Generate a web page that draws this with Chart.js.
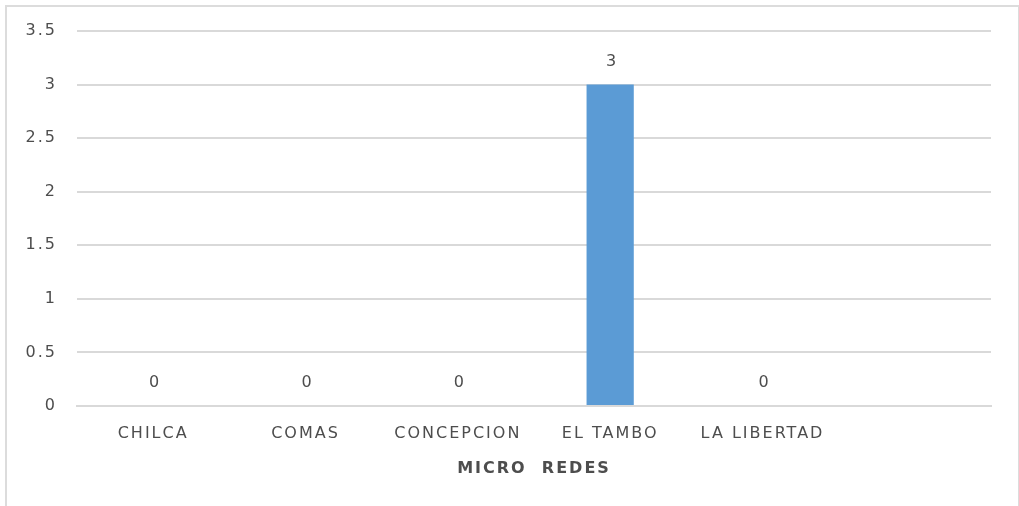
<!DOCTYPE html>
<html>
<head>
<meta charset="utf-8">
<script src="https://cdn.jsdelivr.net/npm/chart.js@4"></script>
<style>
  html, body { margin: 0; padding: 0; background: #fff; overflow: hidden; }
  .frame { position: absolute; left: 5px; top: 5px; width: 1011px; height: 520px; border: 2px solid #dcdcdc; }
  .wrap { position: absolute; left: 0; top: 0; width: 1019px; height: 506px; }
</style>
</head>
<body>
<div class="frame"></div>
<div class="wrap"><canvas id="chart"></canvas></div>
<script>
const categories = ['CHILCA', 'COMAS', 'CONCEPCION', 'EL TAMBO', 'LA LIBERTAD', ''];
const values = [0, 0, 0, 3, 0, null];
const yTicks = [0, 0.5, 1, 1.5, 2, 2.5, 3, 3.5];

const TEXT = '#4d4d4d';
const FONT = 'DejaVu Sans';

// spread the letters a bit, like the original rendering
const spacing = {
  id: 'spacing',
  beforeInit(chart) { chart.ctx.letterSpacing = '2px'; },
  beforeDraw(chart) { chart.ctx.letterSpacing = '2px'; }
};

// value labels over each bar
const valueLabels = {
  id: 'valueLabels',
  afterDatasetsDraw(chart) {
    const ctx = chart.ctx;
    const meta = chart.getDatasetMeta(0);
    ctx.save();
    ctx.fillStyle = TEXT;
    ctx.font = '16px "' + FONT + '"';
    ctx.textAlign = 'center';
    ctx.textBaseline = 'middle';
    meta.data.forEach((bar, i) => {
      if (values[i] === null) return;
      ctx.fillText(String(values[i]), bar.x + 2, bar.y - 23);
    });
    ctx.restore();
  }
};

new Chart(document.getElementById('chart'), {
  type: 'bar',
  data: {
    labels: categories,
    datasets: [{
      data: values,
      backgroundColor: '#5b9bd5',
      barPercentage: 0.5,
      categoryPercentage: 0.62
    }]
  },
  options: {
    responsive: true,
    maintainAspectRatio: false,
    animation: false,
    layout: { padding: { top: 31, right: 28, left: 0, bottom: 0 } },
    plugins: {
      legend: { display: false },
      tooltip: { enabled: false }
    },
    scales: {
      x: {
        grid: { display: false, drawTicks: false },
        border: { display: true, color: '#d9d9d9', width: 2 },
        ticks: {
          color: TEXT,
          font: { family: FONT, size: 16 },
          padding: 18,
          maxRotation: 0,
          autoSkip: false
        },
        title: {
          display: true,
          text: 'MICRO  REDES',
          color: TEXT,
          font: { family: FONT, size: 16, weight: 'bold' },
          padding: { top: 0, bottom: 28 }
        },
        afterFit(scale) { scale.height = 100; }
      },
      y: {
        min: 0,
        max: 3.5,
        afterBuildTicks(scale) { scale.ticks = yTicks.map(v => ({ value: v })); },
        grid: { color: '#d9d9d9', lineWidth: 2, drawTicks: false },
        border: { display: false },
        ticks: {
          color: TEXT,
          font: { family: FONT, size: 16 },
          padding: 20,
          callback: v => String(v)
        },
        afterFit(scale) { scale.width = 77; }
      }
    }
  },
  plugins: [spacing, valueLabels]
});
</script>
</body>
</html>
